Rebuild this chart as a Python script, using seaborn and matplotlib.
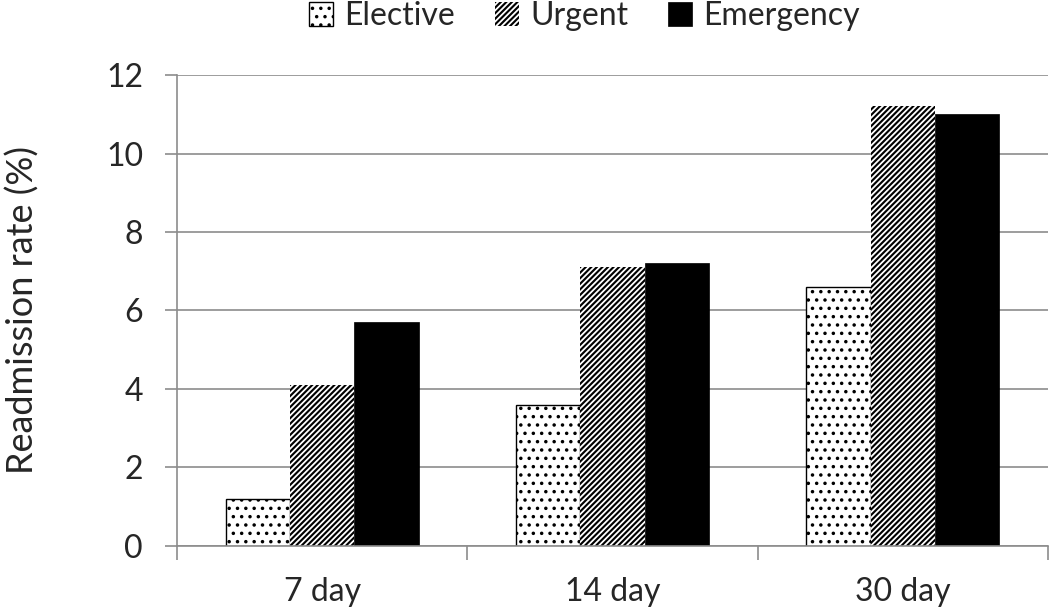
import matplotlib
matplotlib.use("Agg")
import matplotlib.pyplot as plt
import pandas as pd
import seaborn as sns
from matplotlib.ticker import FixedLocator

periods = ["7 day", "14 day", "30 day"]
admission_types = ["Elective", "Urgent", "Emergency"]
elective = [1.2, 3.6, 6.6]
urgent = [4.1, 7.1, 11.2]
emergency = [5.7, 7.2, 11.0]

df = pd.DataFrame({
    "period": periods * 3,
    "type": [t for t in admission_types for _ in periods],
    "rate": elective + urgent + emergency,
})

sns.set_style("white")
plt.rcParams["font.family"] = ["Lato", "DejaVu Sans"]
plt.rcParams["hatch.linewidth"] = 1.3

FS = 23

fig = plt.figure(figsize=(10.5, 6.1), dpi=100)
ax = fig.add_axes([0.1686, 0.105, 0.8294, 0.772])

sns.barplot(data=df, x="period", y="rate", hue="type", order=periods,
            hue_order=admission_types, palette=["white", "black", "black"],
            width=0.665, gap=0, saturation=1, ax=ax, legend=False)

styles = {
    "Elective": dict(facecolor="white", edgecolor="black", hatch="..", linewidth=1.0),
    "Urgent": dict(facecolor="black", edgecolor="white", hatch="//////", linewidth=0),
    "Emergency": dict(facecolor="black", edgecolor="black", hatch=None, linewidth=0.5),
}
handles = []
for cont, name in zip(ax.containers, admission_types):
    for bar in cont:
        bar.set(**styles[name])
    handles.append(cont[0])

ax.set_ylim(0, 12)
ax.set_yticks(range(0, 13, 2))
ax.set_xlim(-0.5, 2.5)
ax.yaxis.grid(True, color="#8c8c8c", linewidth=1.2)
ax.set_axisbelow(True)
for side in ["top", "right"]:
    ax.spines[side].set_visible(False)
for side in ["left", "bottom"]:
    ax.spines[side].set_color("#8c8c8c")
    ax.spines[side].set_linewidth(1.2)

ax.tick_params(axis="y", which="major", length=8.5, color="#8c8c8c", width=1.2,
               direction="out", labelsize=FS, pad=16, left=True)
ax.tick_params(axis="x", which="major", length=0, labelsize=FS, pad=22)
ax.xaxis.set_minor_locator(FixedLocator([-0.5, 0.5, 1.5, 2.5]))
ax.tick_params(axis="x", which="minor", length=10, color="#8c8c8c", width=1.2,
               direction="out", bottom=True)

ax.set_xlabel("")
ax.set_ylabel("Readmission rate (%)", fontsize=26, labelpad=48)

fig.legend(handles, admission_types, loc="upper center", bbox_to_anchor=(0.557, 1.045),
           ncol=3, frameon=False, fontsize=FS, handlelength=0.75, handleheight=0.75,
           handletextpad=0.35, columnspacing=1.25)

fig.savefig("out.png", dpi=100)
